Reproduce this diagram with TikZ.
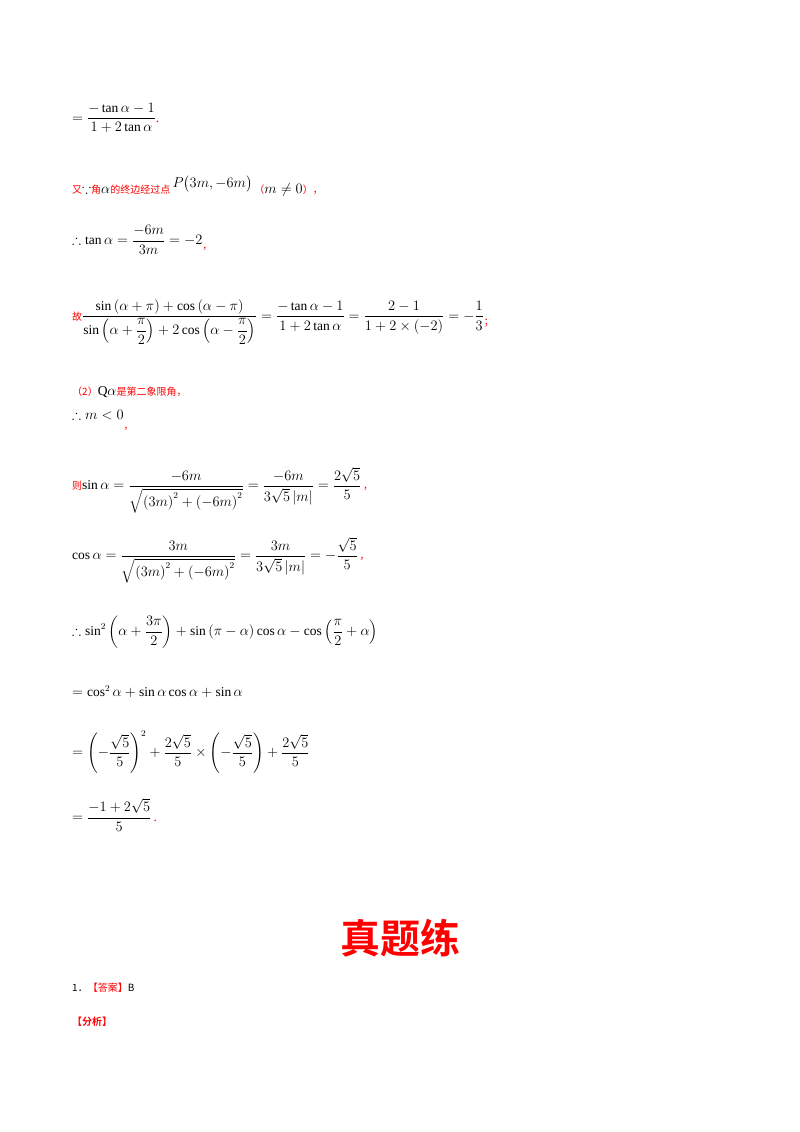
\documentclass[tikz,border=0pt]{standalone}
\usepackage{amsmath,amssymb}
\usepackage{fontspec}
\setmainfont{Liberation Serif}
\newfontfamily\cjk{Noto Sans CJK SC}
\newfontfamily\cjkb{Noto Sans CJK SC}[BoldFont={* Bold}]
\definecolor{myred}{RGB}{255,0,0}
\newcommand{\rc}[1]{\textcolor{myred}{\cjk\fontsize{10}{12}\selectfont #1}}
\begin{document}
\begin{tikzpicture}[x=1pt,y=-1pt,
  ln/.style={anchor=west,inner sep=0pt,font=\fontsize{13.5}{16}\selectfont}]
\useasboundingbox[fill=white] (0,0) rectangle (800,1132);
\node[ln] (l1) at (72,118) {$=\dfrac{-\tan\alpha-1}{1+2\tan\alpha}$\textcolor{myred}{.}};
\node[ln] (l2) at (72,186) {\rc{又}$\because$\rc{角}$\alpha$\rc{的终边经过点}\,\raisebox{6pt}{$P\big(3m,-6m\big)$}\,\rc{（}$m\neq0$\rc{），}};
\node[ln] (l3) at (72,240) {$\therefore\tan\alpha=\dfrac{-6m}{3m}=-2$\rc{\raisebox{-5pt}{，}}};
\node[ln] (l4) at (72,322) {\rc{故}$\dfrac{\sin\left(\alpha+\pi\right)+\cos\left(\alpha-\pi\right)}{\sin\left(\alpha+\dfrac{\pi}{2}\right)+2\cos\left(\alpha-\dfrac{\pi}{2}\right)}=\dfrac{-\tan\alpha-1}{1+2\tan\alpha}=\dfrac{2-1}{1+2\times\left(-2\right)}=-\dfrac{1}{3}$\rc{\raisebox{-5pt}{；}}};
\node[ln] (l5) at (72,392) {\rc{（2）}$\mathrm{Q}\alpha$\rc{是第二象限角，}};
\node[ln] (l6) at (72,420) {$\therefore m<0$\rc{\raisebox{-10pt}{，}}};
\node[ln] (l7) at (72,490) {\rc{则}$\sin\alpha=\dfrac{-6m}{\sqrt{\left(3m\right)^2+\left(-6m\right)^2}}=\dfrac{-6m}{3\sqrt5\left|m\right|}=\dfrac{2\sqrt5}{5}$\rc{\,，}};
\node[ln] (l8) at (72,560) {$\cos\alpha=\dfrac{3m}{\sqrt{\left(3m\right)^2+\left(-6m\right)^2}}=\dfrac{3m}{3\sqrt5\left|m\right|}=-\dfrac{\sqrt5}{5}$\rc{\,，}};
\node[ln] (l9) at (72,632) {$\therefore\sin^2\left(\alpha+\dfrac{3\pi}{2}\right)+\sin\left(\pi-\alpha\right)\cos\alpha-\cos\left(\dfrac{\pi}{2}+\alpha\right)$};
\node[ln] (l10) at (72,692) {$=\cos^2\alpha+\sin\alpha\cos\alpha+\sin\alpha$};
\node[ln] (l11) at (72,752) {$=\left(-\dfrac{\sqrt5}{5}\right)^2+\dfrac{2\sqrt5}{5}\times\left(-\dfrac{\sqrt5}{5}\right)+\dfrac{2\sqrt5}{5}$};
\node[ln] (l12) at (72,815) {$=\dfrac{-1+2\sqrt5}{5}$\textcolor{myred}{\,.}};
\node[inner sep=0pt,text=myred,font=\cjkb\bfseries\fontsize{40}{44}\selectfont] (title) at (400,938) {真题练};
\node[ln] (l13) at (72,988) {\cjk\fontsize{10}{12}\selectfont 1．\textcolor{myred}{【答案】}B};
\node[ln] (l14) at (72,1022) {\cjkb\fontsize{10}{12}\selectfont\bfseries\textcolor{myred}{【分析】}};
\end{tikzpicture}
\end{document}
